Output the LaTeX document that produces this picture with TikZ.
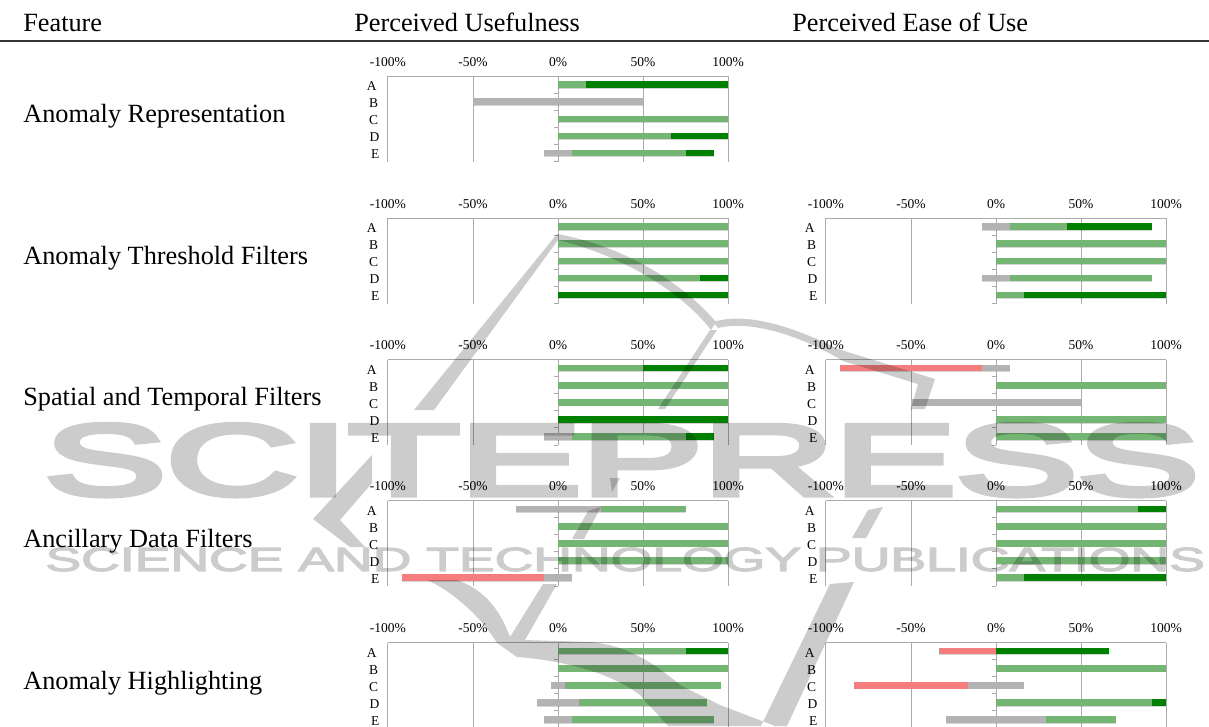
\documentclass[tikz,border=0pt]{standalone}
\usepackage{fontspec}
\setmainfont{Liberation Serif}
\newfontfamily\markfont[FakeBold=5]{Liberation Sans}
\newfontfamily\pubfont[FakeBold=3]{Liberation Sans}
\usepackage{tikz}
\definecolor{highgreen}{HTML}{008000}
\definecolor{lowgreen}{HTML}{74B574}
\definecolor{neutralgrey}{HTML}{B3B3B3}
\definecolor{negred}{HTML}{F57D7D}
\definecolor{gridgrey}{HTML}{ABABAB}
\tikzset{
	headtext/.style={anchor=base west,inner sep=0pt,font=\fontsize{18.7}{22}\selectfont},
	ticktext/.style={font=\fontsize{9.6}{11}\selectfont,inner sep=0pt},
	rowtext/.style={font=\fontsize{9.6}{11}\selectfont,inner sep=0pt},
	gridline/.style={draw=gridgrey,line width=.7pt},
	barshadow/.style={preaction={fill=black,fill opacity=.16,transform canvas={yshift=-.6pt}}},
	wmark/.style={fill=black,fill opacity=.2},
	wtext/.style={text=black,inner sep=0pt,anchor=base west,transform shape}
}
% one bar segment: row, from, to, colour
\newcommand{\seg}[4]{\fill[#4,barshadow] (#2,{8.6+17.1*(#1-1)-3.3}) rectangle (#3,{8.6+17.1*(#1-1)+3.3});}
% one chart: name, x of 0%, y of axis, bars
\newcommand{\chart}[4]{%
	\begin{scope}[shift={(#2,#3)},x=.0425cm]
		\draw[gridline] (-100,0) -- (100,0);
		\draw[gridline] (-100,0) -- (-100,85.5);
		\draw[gridline] (-50,0) -- (-50,85.5);
		\draw[gridline] (0,0) -- (0,85.5);
		\draw[gridline] (50,0) -- (50,85.5);
		\draw[gridline] (100,0) -- (100,85.5);
		\draw[gridline] (-2.4,17.1) -- (0,17.1);
		\draw[gridline] (-2.4,34.2) -- (0,34.2);
		\draw[gridline] (-2.4,51.3) -- (0,51.3);
		\draw[gridline] (-2.4,68.4) -- (0,68.4);
		\draw[gridline] (-2.4,85.5) -- (0,85.5);
		\node[ticktext] (#1n) at (-100,-14) {-100\%};
		\node[ticktext] (#1m) at (-50,-14) {-50\%};
		\node[ticktext] (#1z) at (0,-14) {0\%};
		\node[ticktext] (#1h) at (50,-14) {50\%};
		\node[ticktext] (#1f) at (100,-14) {100\%};
		\node[rowtext] (#1a) at (-109.5,10.5) {A};
		\node[rowtext] (#1b) at (-108.5,27.5) {B};
		\node[rowtext] (#1c) at (-108.5,44.5) {C};
		\node[rowtext] (#1d) at (-108,61.5) {D};
		\node[rowtext] (#1e) at (-107.5,78.5) {E};
		#4
	\end{scope}}

\begin{document}
\begin{tikzpicture}[x=.025cm,y=-.025cm]
	\clip (0,0) rectangle (1209,726);
	\fill[white] (0,0) rectangle (1209,726);

	\node[headtext] (feat) at (23,31) {Feature};
	\node[headtext] (useful) at (354,31) {Perceived Usefulness};
	\node[headtext] (ease) at (792,31) {Perceived Ease of Use};
	\draw[black!80,line width=1pt] (0,41) -- (1209,41);

	\node[headtext] (f1) at (23,122) {Anomaly Representation};
	\node[headtext] (f2) at (23,264) {Anomaly Threshold Filters};
	\node[headtext] (f3) at (23,405) {Spatial and Temporal Filters};
	\node[headtext] (f4) at (23,547) {Ancillary Data Filters};
	\node[headtext] (f5) at (23,689) {Anomaly Highlighting};

	\chart{ua}{558}{76}{
		\seg{1}{0}{16.7}{lowgreen} \seg{1}{16.7}{100}{highgreen}
		\seg{2}{-50}{50}{neutralgrey}
		\seg{3}{0}{100}{lowgreen}
		\seg{4}{0}{66.7}{lowgreen} \seg{4}{66.7}{100}{highgreen}
		\seg{5}{-8.3}{8.3}{neutralgrey} \seg{5}{8.3}{75}{lowgreen} \seg{5}{75}{91.7}{highgreen}
	}
	\chart{ub}{558}{218}{
		\seg{1}{0}{100}{lowgreen}
		\seg{2}{0}{100}{lowgreen}
		\seg{3}{0}{100}{lowgreen}
		\seg{4}{0}{83.3}{lowgreen} \seg{4}{83.3}{100}{highgreen}
		\seg{5}{0}{100}{highgreen}
	}
	\chart{eb}{996}{218}{
		\seg{1}{-8.3}{8.3}{neutralgrey} \seg{1}{8.3}{41.7}{lowgreen} \seg{1}{41.7}{91.7}{highgreen}
		\seg{2}{0}{100}{lowgreen}
		\seg{3}{0}{100}{lowgreen}
		\seg{4}{-8.3}{8.3}{neutralgrey} \seg{4}{8.3}{91.7}{lowgreen}
		\seg{5}{0}{16.7}{lowgreen} \seg{5}{16.7}{100}{highgreen}
	}
	\chart{uc}{558}{359.5}{
		\seg{1}{0}{50}{lowgreen} \seg{1}{50}{100}{highgreen}
		\seg{2}{0}{100}{lowgreen}
		\seg{3}{0}{100}{lowgreen}
		\seg{4}{0}{100}{highgreen}
		\seg{5}{-8.3}{8.3}{neutralgrey} \seg{5}{8.3}{75}{lowgreen} \seg{5}{75}{91.7}{highgreen}
	}
	\chart{ec}{996}{359.5}{
		\seg{1}{-91.7}{-8.3}{negred} \seg{1}{-8.3}{8.3}{neutralgrey}
		\seg{2}{0}{100}{lowgreen}
		\seg{3}{-50}{50}{neutralgrey}
		\seg{4}{0}{100}{lowgreen}
		\seg{5}{0}{100}{lowgreen}
	}
	\chart{ud}{558}{500.5}{
		\seg{1}{-25}{25}{neutralgrey} \seg{1}{25}{75}{lowgreen}
		\seg{2}{0}{100}{lowgreen}
		\seg{3}{0}{100}{lowgreen}
		\seg{4}{0}{100}{lowgreen}
		\seg{5}{-91.7}{-8.3}{negred} \seg{5}{-8.3}{8.3}{neutralgrey}
	}
	\chart{ed}{996}{500.5}{
		\seg{1}{0}{83.3}{lowgreen} \seg{1}{83.3}{100}{highgreen}
		\seg{2}{0}{100}{lowgreen}
		\seg{3}{0}{100}{lowgreen}
		\seg{4}{0}{100}{lowgreen}
		\seg{5}{0}{16.7}{lowgreen} \seg{5}{16.7}{100}{highgreen}
	}
	\chart{ue}{558}{642.5}{
		\seg{1}{0}{75}{lowgreen} \seg{1}{75}{100}{highgreen}
		\seg{2}{0}{100}{lowgreen}
		\seg{3}{-4.2}{4.2}{neutralgrey} \seg{3}{4.2}{95.8}{lowgreen}
		\seg{4}{-12.5}{12.5}{neutralgrey} \seg{4}{12.5}{87.5}{lowgreen}
		\seg{5}{-8.3}{8.3}{neutralgrey} \seg{5}{8.3}{91.7}{lowgreen}
	}
	\chart{ee}{996}{642.5}{
		\seg{1}{-33.3}{0}{negred} \seg{1}{0}{66.7}{highgreen}
		\seg{2}{0}{100}{lowgreen}
		\seg{3}{-83.3}{-16.7}{negred} \seg{3}{-16.7}{16.7}{neutralgrey}
		\seg{4}{0}{91.7}{lowgreen} \seg{4}{91.7}{100}{highgreen}
		\seg{5}{-29.2}{29.2}{neutralgrey} \seg{5}{29.2}{70.8}{lowgreen}
	}

	% watermark on top, it darkens what is below
	\fill[wmark] (557,234) -- (414,410) -- (434,410) -- (558,240) -- cycle
		(557,234) .. controls (620,245) and (680,280) .. (716,322) -- (711,330) .. controls (680,290) and (620,255) .. (558,240) -- cycle
		(710,330) -- (717,330) -- (665,409) -- (658,409) -- cycle
		(713,322) .. controls (745,312) and (790,325) .. (838,349) -- (935,379) -- (925,409) -- (911,409) -- (918,384) -- (843,361) .. controls (800,335) and (750,320) .. (718,328) -- cycle
		(610,478) -- (620,478) -- (612,492) -- cycle
		(601,507) -- (588,511) -- (572,539) -- (584,539) -- cycle
		(372,455) -- (313,519) -- (350,547) -- (365,547) -- (340,520) -- (372,483) -- cycle
		(427,580) .. controls (450,590) and (480,615) .. (497,643) -- (517,657) .. controls (560,660) and (610,672) .. (640,695) -- (668,726) -- (775,726) -- (720,705) -- (680,685) .. controls (660,668) and (630,645) .. (590,642) -- (525,640) -- (557,584) -- (543,584) -- (510,637) .. controls (500,610) and (485,590) .. (457,580) -- cycle
		(830,584) -- (854,582) -- (787,726) -- (761,726) -- cycle
		(868,510) -- (883,507) -- (866,538) -- (852,538) -- cycle;
	\begin{scope}[transparency group,opacity=.2]
		\node[wtext,xscale=1.8] (mark) at (44,495) {\markfont\fontsize{72}{78}\selectfont SCITEPRESS};
		\node[wtext,xscale=1.6] (pub) at (45,571) {\pubfont\fontsize{23.8}{26}\selectfont SCIENCE AND TECHNOLOGY PUBLICATIONS};
	\end{scope}
\end{tikzpicture}
\end{document}
